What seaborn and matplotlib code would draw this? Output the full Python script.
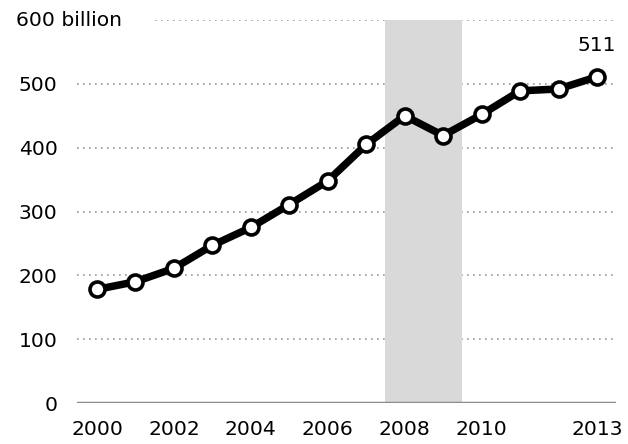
import matplotlib
matplotlib.use("Agg")
import matplotlib.pyplot as plt
import seaborn as sns
import pandas as pd

# Data
years = [2000, 2001, 2002, 2003, 2004, 2005, 2006, 2007, 2008, 2009, 2010, 2011, 2012, 2013]
values = [178, 190, 211, 247, 275, 311, 348, 405, 450, 419, 452, 489, 492, 511]
xtick_years = [2000, 2002, 2004, 2006, 2008, 2010, 2013]
yticks = [0, 100, 200, 300, 400, 500, 600]
recession = (2007.5, 2009.5)
end_label = "511"

df = pd.DataFrame({"year": years, "value": values})

sns.set_style("white")
plt.rcParams["font.family"] = ["DejaVu Sans"]
plt.rcParams["font.size"] = 14.6
plt.rcParams["text.color"] = "black"
plt.rcParams["xtick.color"] = "black"
plt.rcParams["ytick.color"] = "black"

fig = plt.figure(figsize=(6.28, 4.44), dpi=100)
ax = fig.add_axes([0.1226, 0.0923, 0.858, 0.8626])

# recession shading
ax.axvspan(recession[0], recession[1], ymin=0, ymax=1, color="#d9d9d9", lw=0, zorder=2)

# dotted gridlines (600 one starts after its label)
for y in yticks[1:]:
    x0 = 2001.5 if y == 600 else 1999.48
    ax.hlines(y, x0, 2013.45, colors="#999999", linestyles=(0, (1, 2.6)), lw=1.2, zorder=1)

# baseline
ax.axhline(0, color="#8c8c8c", lw=2.5, zorder=3)

sns.lineplot(data=df, x="year", y="value", ax=ax, color="black", lw=5.4,
             marker="o", markersize=10.8, markerfacecolor="white",
             markeredgecolor="black", markeredgewidth=2.6, zorder=5)

ax.annotate(end_label, xy=(years[-1], values[-1]), xytext=(0, 31),
            textcoords="offset pixels", ha="center", va="center")

ax.set_xlim(1999.48, 2013.49)
ax.set_ylim(0, 600)
ax.set_xticks(xtick_years)
ax.set_xticklabels([str(y) for y in xtick_years])
ax.set_yticks(yticks)
ylabels = [str(v) for v in yticks]
ylabels[-1] = ""
ax.set_yticklabels(ylabels)
ax.annotate("600 billion", xy=(0, 600), xycoords=("axes fraction", "data"),
            xytext=(-61, 0), textcoords="offset pixels", ha="left", va="center")

ax.tick_params(axis="y", length=0, pad=14)
ax.tick_params(axis="x", length=0, pad=12)
ax.set_xlabel("")
ax.set_ylabel("")
for s in ax.spines.values():
    s.set_visible(False)

fig.savefig("out.png", dpi=100)
